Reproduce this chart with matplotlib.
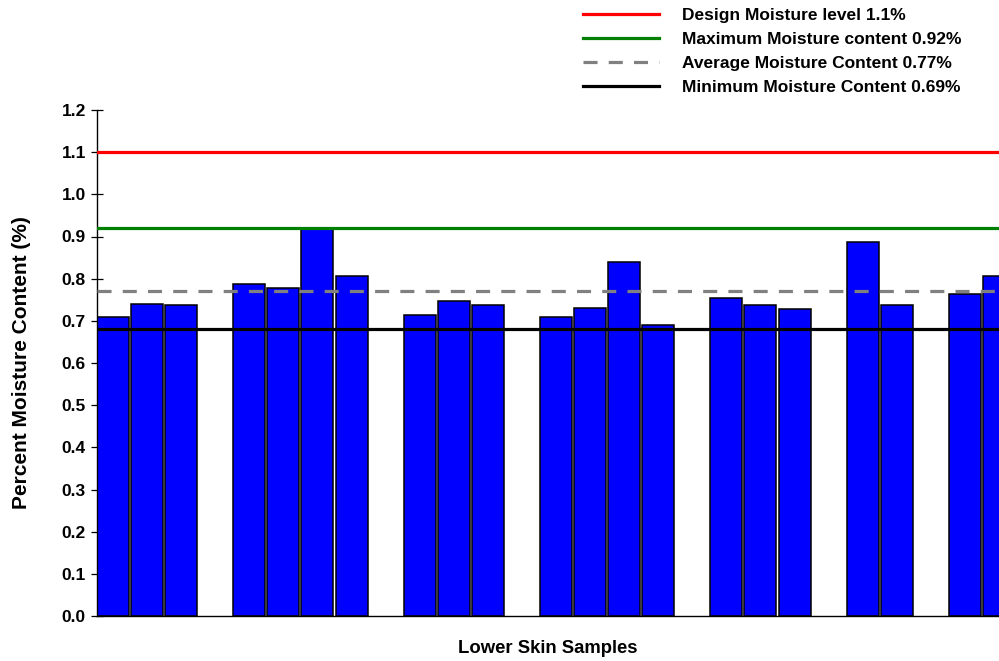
import numpy as np
import matplotlib
matplotlib.use("Agg")
import matplotlib.pyplot as plt

plt.rcParams['font.family'] = ['Liberation Sans', 'DejaVu Sans']
plt.rcParams['font.weight'] = 'bold'

# moisture content of each lower skin sample (nan = empty slot between groups)
nan = np.nan
sample_values = [0.709, 0.740, 0.738, nan,
                 0.788, 0.779, 0.920, 0.807, nan,
                 0.715, 0.748, 0.738, nan,
                 0.708, 0.731, 0.839, 0.689, nan,
                 0.753, 0.738, 0.728, nan,
                 0.887, 0.738, nan,
                 0.763, 0.807]

# horizontal reference levels
ref_labels = ['Design Moisture level 1.1%',
              'Maximum Moisture content 0.92%',
              'Average Moisture Content 0.77%',
              'Minimum Moisture Content 0.69%']
ref_values = [1.1, 0.92, 0.77, 0.68]
ref_colors = ['#ff0000', '#008000', '#808080', '#000000']

yticks = np.arange(0, 1.21, 0.1)

fig = plt.figure(figsize=(9.99, 6.61), dpi=100)
ax = fig.add_axes([97 / 999, 45 / 661, 902 / 999, 506 / 661])

vals = np.array(sample_values, dtype=float)
pos = np.arange(len(vals))
ok = ~np.isnan(vals)
ax.bar(pos[ok], vals[ok], width=0.94, color='#0000ff', edgecolor='black',
       linewidth=1.1, zorder=2)

handles = []
for lab, v, c in zip(ref_labels, ref_values, ref_colors):
    if c == '#808080':
        h = ax.axhline(v, color=c, lw=2.3, dashes=(4.4, 3.5), label=lab, zorder=3)
    else:
        h = ax.axhline(v, color=c, lw=2.3, label=lab, zorder=3)
    handles.append(h)

ax.set_xlim(-0.47, 26.0)
ax.set_ylim(0, 1.2)
ax.set_yticks(yticks)
ax.set_yticklabels([f'{t:.1f}' for t in yticks], fontsize=12.5, fontweight='bold')
ax.set_xticks([])
ax.tick_params(axis='y', direction='inout', length=8, width=0.9, pad=4)
ax.spines['top'].set_visible(False)
ax.spines['right'].set_visible(False)
ax.spines['left'].set_linewidth(1.0)
ax.spines['bottom'].set_linewidth(1.0)

ax.set_ylabel('Percent Moisture Content (%)', fontsize=15, fontweight='bold')
ax.yaxis.set_label_coords(-66 / 902, 0.5)
ax.set_xlabel('Lower Skin Samples', fontsize=13.3, fontweight='bold', labelpad=17)

fig.legend(handles=handles, loc='upper left', bbox_to_anchor=(583 / 999, 1 - 8 / 661),
           frameon=False, handlelength=4.4, handletextpad=1.3,
           labelspacing=0.5, borderpad=0, borderaxespad=0,
           prop={'weight': 'bold', 'size': 12.5})

fig.savefig('out.png', dpi=100)
